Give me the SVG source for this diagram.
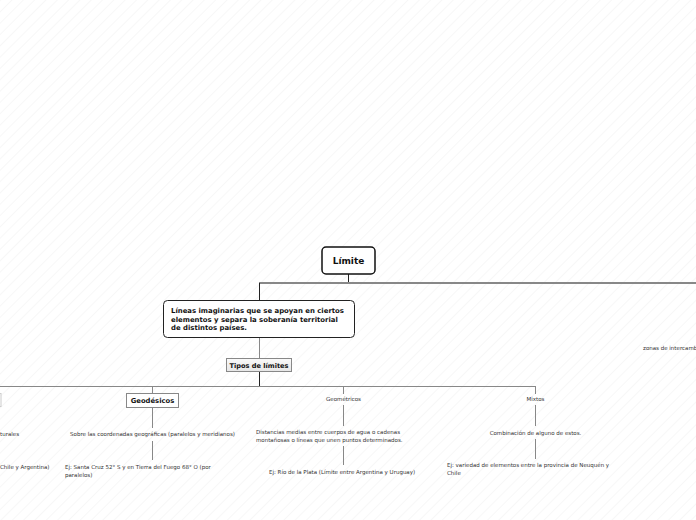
<svg xmlns="http://www.w3.org/2000/svg" width="696" height="520" viewBox="0 0 696 520">
<defs>
<pattern id="hatch" width="8" height="8" patternUnits="userSpaceOnUse" patternTransform="rotate(45)">
<rect width="8" height="8" fill="#ffffff"/>
<line x1="0" y1="0" x2="0" y2="8" stroke="#f3f3f3" stroke-width="1.2"/>
</pattern>
<linearGradient id="gray" x1="0" y1="0" x2="0" y2="1">
<stop offset="0" stop-color="#fafafa"/>
<stop offset="1" stop-color="#e6e6e6"/>
</linearGradient>
</defs>
<style>
text{font-family:"DejaVu Sans","Verdana",sans-serif;fill:#222}
.b{font-weight:bold;fill:#111}
.s{font-size:5.5px;fill:#333}
.c{fill:none;stroke:#888;stroke-width:1}
.ct{fill:none;stroke:#888;stroke-width:2}
.k{fill:none;stroke:#222;stroke-width:1}
</style>
<rect width="696" height="520" fill="url(#hatch)"/>
<g id="connectors">
<path class="k" d="M348.5 274V283"/>
<path class="ct" d="M259 283H696"/>
<path class="k" d="M259.5 283V300"/>
<path class="c" d="M259.5 337V358"/>
<path class="k" d="M259.5 372V386"/>
<path class="c" d="M0 386.5H535.5"/>
<path class="c" d="M152.5 386V393"/>
<path class="c" d="M343.5 386V394"/>
<path class="c" d="M535.5 386V394"/>
<path class="c" d="M152.5 407V428"/>
<path class="c" d="M152.5 441V460"/>
<path class="c" d="M343.5 405V426"/>
<path class="c" d="M343.5 446V465"/>
<path class="c" d="M535.5 405V426"/>
<path class="c" d="M535.5 439V459"/>
</g>
<g id="limite">
<rect x="322" y="247" width="53" height="27" rx="4" fill="#fff" stroke="#111" stroke-width="1.5"/>
<text class="b" x="348.5" y="264" font-size="9" text-anchor="middle">Límite</text>
</g>
<g id="lineas">
<rect x="163.5" y="300.5" width="191" height="37" rx="4" fill="#fff" stroke="#222" stroke-width="1"/>
<text class="b" font-size="6.9"><tspan x="171" y="313">Líneas imaginarias que se apoyan en ciertos</tspan><tspan x="171" y="321.5">elementos y separa la soberanía territorial</tspan><tspan x="171" y="330">de distintos países.</tspan></text>
</g>
<g id="tipos">
<rect x="226.5" y="358.5" width="65" height="13" fill="url(#gray)" stroke="#888" stroke-width="1"/>
<text class="b" x="259" y="367.5" font-size="6.6" text-anchor="middle">Tipos de límites</text>
</g>
<g id="naturales">
<rect x="-60" y="393.5" width="61" height="13" fill="#fff" stroke="#ccc" stroke-width="1"/>
<text class="s" x="0" y="436">turales</text>
<text class="s" x="0" y="469">Chile y Argentina)</text>
</g>
<g id="geodesicos">
<rect x="126.5" y="393.5" width="52" height="14" fill="#fff" stroke="#888" stroke-width="1"/>
<text class="b" x="152.5" y="402.5" font-size="6.8" text-anchor="middle">Geodésicos</text>
<text class="s" x="152.5" y="436" text-anchor="middle">Sobre las coordenadas geográficas (paralelos y meridianos)</text>
<text class="s"><tspan x="65" y="469">Ej: Santa Cruz 52° S y en Tierra del Fuego 68° O (por</tspan><tspan x="65" y="477">paralelos)</tspan></text>
</g>
<g id="geometricos">
<text class="s" x="343.5" y="401" text-anchor="middle">Geométricos</text>
<text class="s"><tspan x="256" y="434">Distancias medias entre cuerpos de agua o cadenas</tspan><tspan x="256" y="442">montañosas o líneas que unen puntos determinados.</tspan></text>
<text class="s" x="269" y="474">Ej: Río de la Plata (Límite entre Argentina y Uruguay)</text>
</g>
<g id="mixtos">
<text class="s" x="535.5" y="401" text-anchor="middle">Mixtos</text>
<text class="s" x="535.5" y="435" text-anchor="middle">Combinación de alguno de estos.</text>
<text class="s"><tspan x="447" y="467">Ej: variedad de elementos entre la provincia de Neuquén y</tspan><tspan x="447" y="475">Chile</tspan></text>
</g>
<g id="zonas">
<text class="s" x="643" y="350">zonas de intercamb</text>
</g>
</svg>
